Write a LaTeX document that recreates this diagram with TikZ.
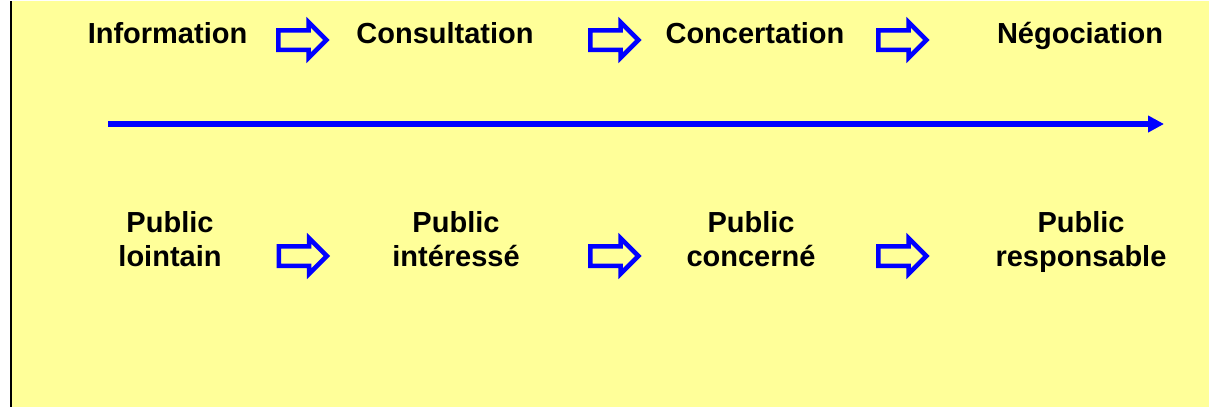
\documentclass[tikz,border=0pt]{standalone}
\usepackage{fontspec}
\setmainfont{Liberation Sans}
\usetikzlibrary{arrows.meta,shapes.arrows}
\definecolor{bgyellow}{HTML}{FFFF99}
\definecolor{arrblue}{HTML}{0000FF}

\begin{document}
\begin{tikzpicture}[x=1pt,y=-1pt,
  lbl/.style={font=\bfseries\fontsize{29}{34}\selectfont,align=center,inner sep=0pt,anchor=base},
  fatarrow/.style={single arrow,draw=arrblue,fill=bgyellow,line width=4.5pt,
    minimum height=48pt,minimum width=0pt,single arrow head extend=8pt,
    inner xsep=0pt,inner ysep=7.5pt},]
% background
\fill[white] (0,0) rectangle (1209,406);
\fill[bgyellow] (11,0) rectangle (1209,406);
\draw[line width=2pt] (10.5,0) -- (10.5,406);

\node[lbl] (a1) at (167.5,42) {Information};
\node[lbl] (a2) at (445,42) {Consultation};
\node[lbl] (a3) at (755,42) {Concertation};
\node[lbl] (a4) at (1080,42) {Négociation};

\node[fatarrow] (s1) at (297.5,39) {};
\node[fatarrow] (s2) at (609.5,39) {};
\node[fatarrow] (s3) at (897.5,39) {};

\coordinate (lstart) at (108,123);
\coordinate (lend) at (1164,123);
\draw[arrblue,line width=6pt,-{Triangle[length=16pt,width=16pt]}] (lstart) -- (lend);

\node[lbl] (b1) at (170,265) {Public\\lointain};
\node[lbl] (b2) at (456,265) {Public\\intéressé};
\node[lbl] (b3) at (751,265) {Public\\concerné};
\node[lbl] (b4) at (1081,265) {Public\\responsable};

\node[fatarrow] (t1) at (298,255) {};
\node[fatarrow] (t2) at (609.5,255) {};
\node[fatarrow] (t3) at (897.5,255) {};
\end{tikzpicture}
\end{document}
